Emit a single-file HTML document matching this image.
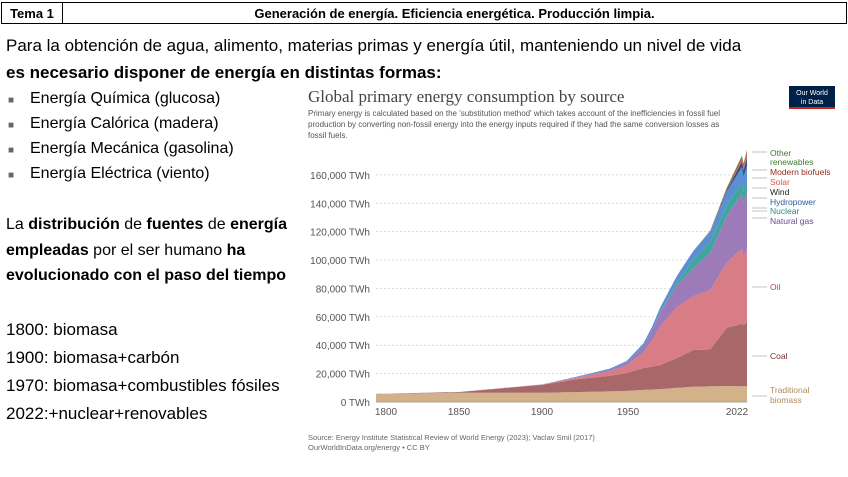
<!DOCTYPE html>
<html><head><meta charset="utf-8">
<style>
body{margin:0;width:848px;height:477px;background:#fff;font-family:"Liberation Sans",sans-serif;position:relative;overflow:hidden}
.hd{position:absolute;top:2px;height:22px;border:1.5px solid #000;font-weight:bold;font-size:13px;line-height:22px;text-align:center;box-sizing:border-box}
.t{position:absolute;font-size:17px;color:#000;white-space:nowrap}
.b{position:absolute;left:8px;font-size:10px;color:#666}
</style></head><body>
<div class="hd" style="left:1px;width:62px">Tema 1</div>
<div class="hd" style="left:62px;width:785px">Generación de energía. Eficiencia energética. Producción limpia.</div>
<div class="t" style="left:6px;top:36px">Para la obtención de agua, alimento, materias primas y energía útil, manteniendo un nivel de vida</div>
<div class="t" style="left:6px;top:63px;font-weight:bold">es necesario disponer de energía en distintas formas:</div>
<div class="b" style="top:95px">■</div><div class="t" style="left:30px;top:90px;font-size:16px">Energía Química (glucosa)</div>
<div class="b" style="top:120px">■</div><div class="t" style="left:30px;top:115px;font-size:16px">Energía Calórica (madera)</div>
<div class="b" style="top:145px">■</div><div class="t" style="left:30px;top:140px;font-size:16px">Energía Mecánica (gasolina)</div>
<div class="b" style="top:170px">■</div><div class="t" style="left:30px;top:165px;font-size:16px">Energía Eléctrica (viento)</div>
<div class="t" style="left:6px;top:216px;font-size:16px">La <b>distribución</b> de <b>fuentes</b> de <b>energía</b></div>
<div class="t" style="left:6px;top:242px;font-size:16px"><b>empleadas</b> por el ser humano <b>ha</b></div>
<div class="t" style="left:6px;top:267px;font-size:16px"><b>evolucionado con el paso del tiempo</b></div>
<div class="t" style="left:6px;top:320px">1800: biomasa</div>
<div class="t" style="left:6px;top:348px">1900: biomasa+carbón</div>
<div class="t" style="left:6px;top:376px">1970: biomasa+combustibles fósiles</div>
<div class="t" style="left:6px;top:404px">2022:+nuclear+renovables</div>
<svg id="c" width="848" height="477" style="position:absolute;left:0;top:0" font-family="Liberation Sans, sans-serif">
<text x="308" y="102" font-family="Liberation Serif, serif" font-size="17" fill="#444">Global primary energy consumption by source</text>
<text x="308" y="116" font-size="8" fill="#555">Primary energy is calculated based on the 'substitution method' which takes account of the inefficiencies in fossil fuel</text>
<text x="308" y="127" font-size="8" fill="#555">production by converting non-fossil energy into the energy inputs required if they had the same conversion losses as</text>
<text x="308" y="138" font-size="8" fill="#555">fossil fuels.</text>
<rect x="789" y="86" width="46" height="23" fill="#002147"/><rect x="789" y="107" width="46" height="2" fill="#ce261e"/>
<text x="812" y="95" font-size="7" fill="#fff" text-anchor="middle">Our World</text>
<text x="812" y="104" font-size="7" fill="#fff" text-anchor="middle">in Data</text>
<g id="g"></g>
<text x="308" y="440" font-size="7.5" fill="#666">Source: Energy Institute Statistical Review of World Energy (2023); Vaclav Smil (2017)</text>
<text x="308" y="450" font-size="7.5" fill="#666">OurWorldInData.org/energy • CC BY</text>
</svg>
<script>
const g=document.getElementById('g');let h='';
const X=y=>376+(y-1800)*1.671, Y=v=>402-v*0.0014195;
for(let i=0;i<=8;i++){const v=i*20000,y=Y(v);
h+=`<line x1="376" x2="747" y1="${y}" y2="${y}" stroke="#ccc" stroke-dasharray="2,2" stroke-width="0.7"/>`;
h+=`<text x="370" y="${y+4}" font-size="10" fill="#555" text-anchor="end">${i?(v/1000)+',000 TWh':'0 TWh'}</text>`;}
[[1800,386],[1850,459],[1900,542],[1950,628],[2022,737]].forEach(([l,x])=>{h+=`<text x="${x}" y="415" font-size="10" fill="#555" text-anchor="middle">${l}</text>`});
function ip(pts,yr){if(yr<=pts[0][0])return pts[0][0]==1800?pts[0][1]:0;for(let i=0;i<pts.length-1;i++){if(yr<=pts[i+1][0]){const[a,b]=pts[i],[c,d]=pts[i+1];return b+(d-b)*(yr-a)/(c-a);}}return pts[pts.length-1][1];}
const Y5=[1800,1850,1900,1920,1940,1950,1960,1965,1970,1980,1990,2000,2010,2019,2020,2022];
const z=a=>Y5.map((y,i)=>[y,a[i]]);
const L=[
['#d3b28a',z([5600,6500,6500,7000,7500,7800,8500,8800,9000,10000,10800,11000,11300,11100,11100,11100])],
['#a8686a',z([97,570,5700,9000,11000,12600,15400,16100,17000,20900,25800,26000,41000,44000,43000,45000])],
['#d87c86',z([0,0,180,1100,3300,5400,11000,18000,27000,36000,38000,42000,46000,53000,48000,52000])],
['#9d7ab8',z([0,0,60,250,900,2100,4500,7000,10000,15000,20000,26000,33000,39000,38500,40000])],
['#3fa59d',[[1960,0],[1965,70],[1970,220],[1980,2000],[1990,6000],[2000,7300],[2010,7600],[2019,7500],[2022,7200]]],
['#5b8fd4',[[1890,0],[1900,100],[1950,1000],[1960,1800],[1970,3200],[1980,4800],[1990,6000],[2000,7500],[2010,9500],[2019,11000],[2022,11100]]],
['#2f4f80',[[1990,0],[2000,90],[2010,950],[2019,3800],[2022,5500]]],
['#d9655a',[[2000,0],[2010,90],[2019,1900],[2022,3500]]],
['#a0402e',[[1990,0],[2000,300],[2010,1000],[2022,1300]]],
['#4e8a3e',[[1990,0],[2000,500],[2010,750],[2022,1000]]]];
const ys=[];for(let y=1800;y<=2022;y+=1)ys.push(y);
let prev=ys.map(()=>0);
L.forEach(([c,p])=>{const cur=ys.map((y,i)=>prev[i]+ip(p,y));let d='M'+ys.map((y,i)=>X(y).toFixed(1)+','+Y(cur[i]).toFixed(1)).join('L');
for(let i=ys.length-1;i>=0;i--)d+='L'+X(ys[i]).toFixed(1)+','+Y(prev[i]).toFixed(1);
h+=`<path d="${d}Z" fill="${c}"/>`;prev=cur;});
h+=`<line x1="376" x2="747" y1="402" y2="402" stroke="#999" stroke-width="0.7"/>`;
const lab=[['Other',156,'#3b7a2e'],['renewables',165,'#3b7a2e'],['Modern biofuels',175,'#8b2e1e'],['Solar',185,'#d9554a'],['Wind',195,'#222'],['Hydropower',205,'#2b5aa0'],['Nuclear',214,'#2a8a80'],['Natural gas',224,'#6a4a90'],['Oil',290,'#c0404a'],['Coal',359,'#7a2e2e'],['Traditional',393,'#b08a5a'],['biomass',403,'#b08a5a']];
lab.forEach(([t,y,c])=>{h+=`<text x="770" y="${y}" font-size="8.5" fill="${c}">${t}</text>`});
[[152],[170],[178],[188],[198],[208],[211],[218],[287],[356],[396]].forEach(([y])=>{h+=`<line x1="752" x2="767" y1="${y}" y2="${y}" stroke="#aaa" stroke-width="0.7"/>`});
g.innerHTML=h;
</script>
</body></html>
